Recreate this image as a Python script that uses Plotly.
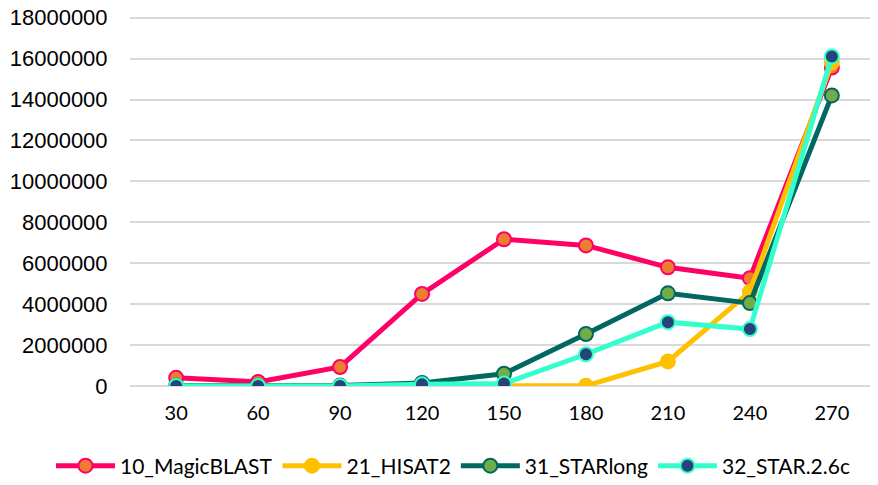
import plotly.graph_objects as go

categories = ["30", "60", "90", "120", "150", "180", "210", "240", "270"]
magicblast = [400000, 200000, 930000, 4500000, 7170000, 6870000, 5800000, 5270000, 15560000]
hisat2 = [0, 0, 0, 0, 0, 10000, 1200000, 4600000, 15800000]
starlong = [10000, 10000, 20000, 150000, 600000, 2540000, 4530000, 4050000, 14200000]
star26c = [0, 0, 0, 80000, 120000, 1550000, 3120000, 2780000, 16100000]
y_ticks = [0, 2000000, 4000000, 6000000, 8000000, 10000000, 12000000, 14000000, 16000000, 18000000]

series = [
    ("10_MagicBLAST", magicblast, "#FF0066", "#ED7D31"),
    ("21_HISAT2", hisat2, "#FFC000", "#FFC000"),
    ("31_STARlong", starlong, "#006860", "#70AD47"),
    ("32_STAR.2.6c", star26c, "#33FFCC", "#264478"),
]

fig = go.Figure()
for name, vals, lc, mc in series:
    fig.add_trace(go.Scatter(
        x=categories, y=vals, name=name, mode="lines+markers",
        line=dict(color=lc, width=5),
        marker=dict(size=14, color=mc, line=dict(color=lc, width=2)),
    ))

fig.update_layout(
    width=870, height=477,
    margin=dict(l=122, r=0, t=8, b=99, autoexpand=False),
    plot_bgcolor="white", paper_bgcolor="white",
    showlegend=True,
    legend=dict(orientation="h", x=-0.1056, xanchor="left",
                y=-0.2162, yanchor="middle",
                font=dict(family="Lato", size=21, color="#000000"), itemwidth=59,
                traceorder="normal"),
    xaxis=dict(type="category", showgrid=False, showline=False, zeroline=False, automargin=False,
               tickfont=dict(family="Lato", size=20, color="#000000"),
               ticks="outside", ticklen=9, tickcolor="white"),
    yaxis=dict(range=[0, 18080000], tickvals=y_ticks, ticktext=[str(v) for v in y_ticks],
               showgrid=True, gridcolor="#D9D9D9", gridwidth=1.5, automargin=False,
               zeroline=True, zerolinecolor="#D9D9D9", zerolinewidth=1.5,
               ticklabeloverflow="allow",
               tickfont=dict(family="Liberation Sans", size=22, color="#000000"),
               ticks="outside", ticklen=17, tickcolor="white"),
)

fig.write_html("out.html")
